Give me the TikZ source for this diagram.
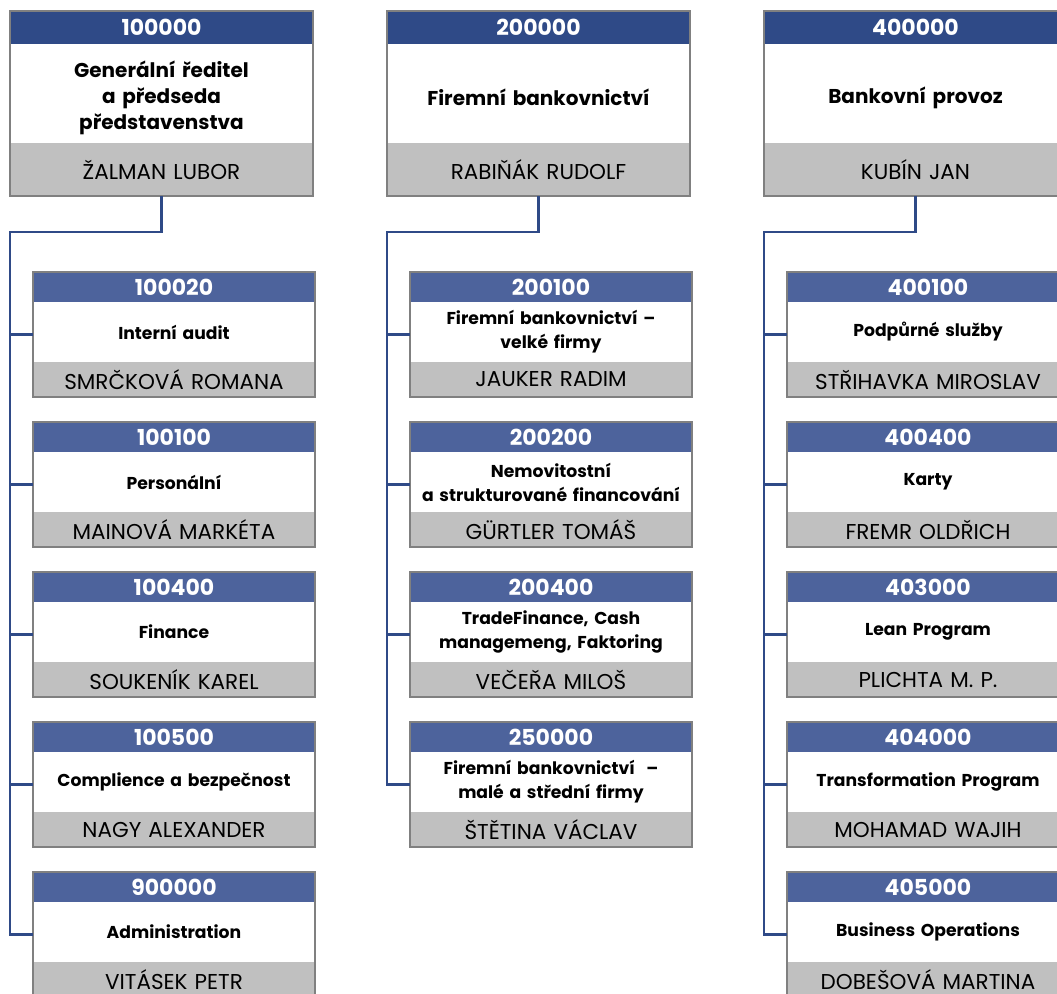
\documentclass[tikz,border=0pt]{standalone}
\usepackage{fontspec}
\setmainfont{Poppins}
\usetikzlibrary{positioning, calc}
\definecolor{headBlue}{HTML}{2F4A87}
\definecolor{subBlue}{HTML}{4D639C}
\definecolor{nameGray}{HTML}{C0C0C0}
\definecolor{frameGray}{HTML}{808080}
\definecolor{linkBlue}{HTML}{2F4A87}

\begin{document}
\begin{tikzpicture}[x=1pt, y=-1pt,
    part/.style={inner sep=0pt, outer sep=0pt, align=center},
    tophead/.style={part, anchor=north west, fill=headBlue, text=white, text width=303pt, minimum height=33pt, font=\bfseries\fontsize{22}{24}\selectfont},
    topbody/.style={part, fill=white, text width=303pt, minimum height=99pt},
    toptitle/.style={part, text width=303pt, font=\bfseries\fontsize{20}{26}\selectfont},
    topname/.style={part, fill=nameGray, text width=303pt, minimum height=53pt, font=\fontsize{21.5}{24}\selectfont},
    subhead/.style={part, anchor=north west, fill=subBlue, text=white, text width=282pt, minimum height=30pt, font=\bfseries\fontsize{22}{24}\selectfont},
    subbody/.style={part, fill=white, text width=282pt, minimum height=60pt, font=\bfseries\fontsize{17.2}{24}\selectfont},
    subname/.style={part, fill=nameGray, text width=282pt, minimum height=35pt, font=\fontsize{21.5}{24}\selectfont},
    frame/.style={draw=frameGray, line width=2pt},
    link/.style={draw=linkBlue, line width=2.2pt}]
    \useasboundingbox (0,0) rectangle (1057,993);
    \clip (0,0) rectangle (1057,993);

    % top units
    \foreach \x/\num/\title/\who in {10/100000/{Generální ředitel\\a předseda\\představenstva}/ŽALMAN LUBOR,
        387/200000/Firemní bankovnictví/RABIŇÁK RUDOLF,
        764/400000/Bankovní provoz/KUBÍN JAN} {
        \node[tophead] (u\num h) at (\x,11) {\num};
        \node[topbody, below=0pt of u\num h] (u\num b) {};
        \node[toptitle] (u\num t) at ([yshift=-4pt]u\num b.center) {\title};
        \node[topname, below=0pt of u\num b] (u\num n) {\who};
        \draw[frame] (u\num h.north west) rectangle (u\num n.south east);
    }

    % sub units
    \foreach \x/\k/\num/\title/\who in {33/1/100020/Interní audit/SMRČKOVÁ ROMANA,
        33/2/100100/Personální/MAINOVÁ MARKÉTA,
        33/3/100400/Finance/SOUKENÍK KAREL,
        33/4/100500/Complience a bezpečnost/NAGY ALEXANDER,
        33/5/900000/Administration/VITÁSEK PETR,
        410/1/200100/{Firemní bankovnictví –\\velké firmy}/JAUKER RADIM,
        410/2/200200/{Nemovitostní\\a strukturované financování}/GÜRTLER TOMÁŠ,
        410/3/200400/{TradeFinance, Cash\\managemeng, Faktoring}/VEČEŘA MILOŠ,
        410/4/250000/{Firemní bankovnictví \ –\\malé a střední firmy}/ŠTĚTINA VÁCLAV,
        787/1/400100/Podpůrné služby/STŘIHAVKA MIROSLAV,
        787/2/400400/Karty/FREMR OLDŘICH,
        787/3/403000/Lean Program/PLICHTA M. P.,
        787/4/404000/Transformation Program/MOHAMAD WAJIH,
        787/5/405000/Business Operations/DOBEŠOVÁ MARTINA} {
        \pgfmathsetmacro{\y}{272+150*(\k-1)}
        \node[subhead] (u\num h) at (\x,\y) {\num};
        \node[subbody, below=0pt of u\num h] (u\num b) {\title};
        \node[subname, below=0pt of u\num b] (u\num n) {\who};
        \draw[frame] (u\num h.north west) rectangle (u\num n.south east);
        \coordinate (u\num) at ($(u\num h.north west)!0.5!(u\num n.south west)$);
    }

    % connectors
    \foreach \boss/\lastkid/\kids in {100000/900000/{100020,100100,100400,100500},
        200000/250000/{200100,200200,200400},
        400000/405000/{400100,400400,403000,404000}} {
        \coordinate (t\boss) at ($(u\boss n.south -| u\boss h.west)+(0,36)$);
        \draw[link] (u\boss n.south) |- (t\boss) |- (u\lastkid);
        \foreach \c in \kids {
            \draw[link] (t\boss |- u\c) -- (u\c);
        }
    }
\end{tikzpicture}
\end{document}
